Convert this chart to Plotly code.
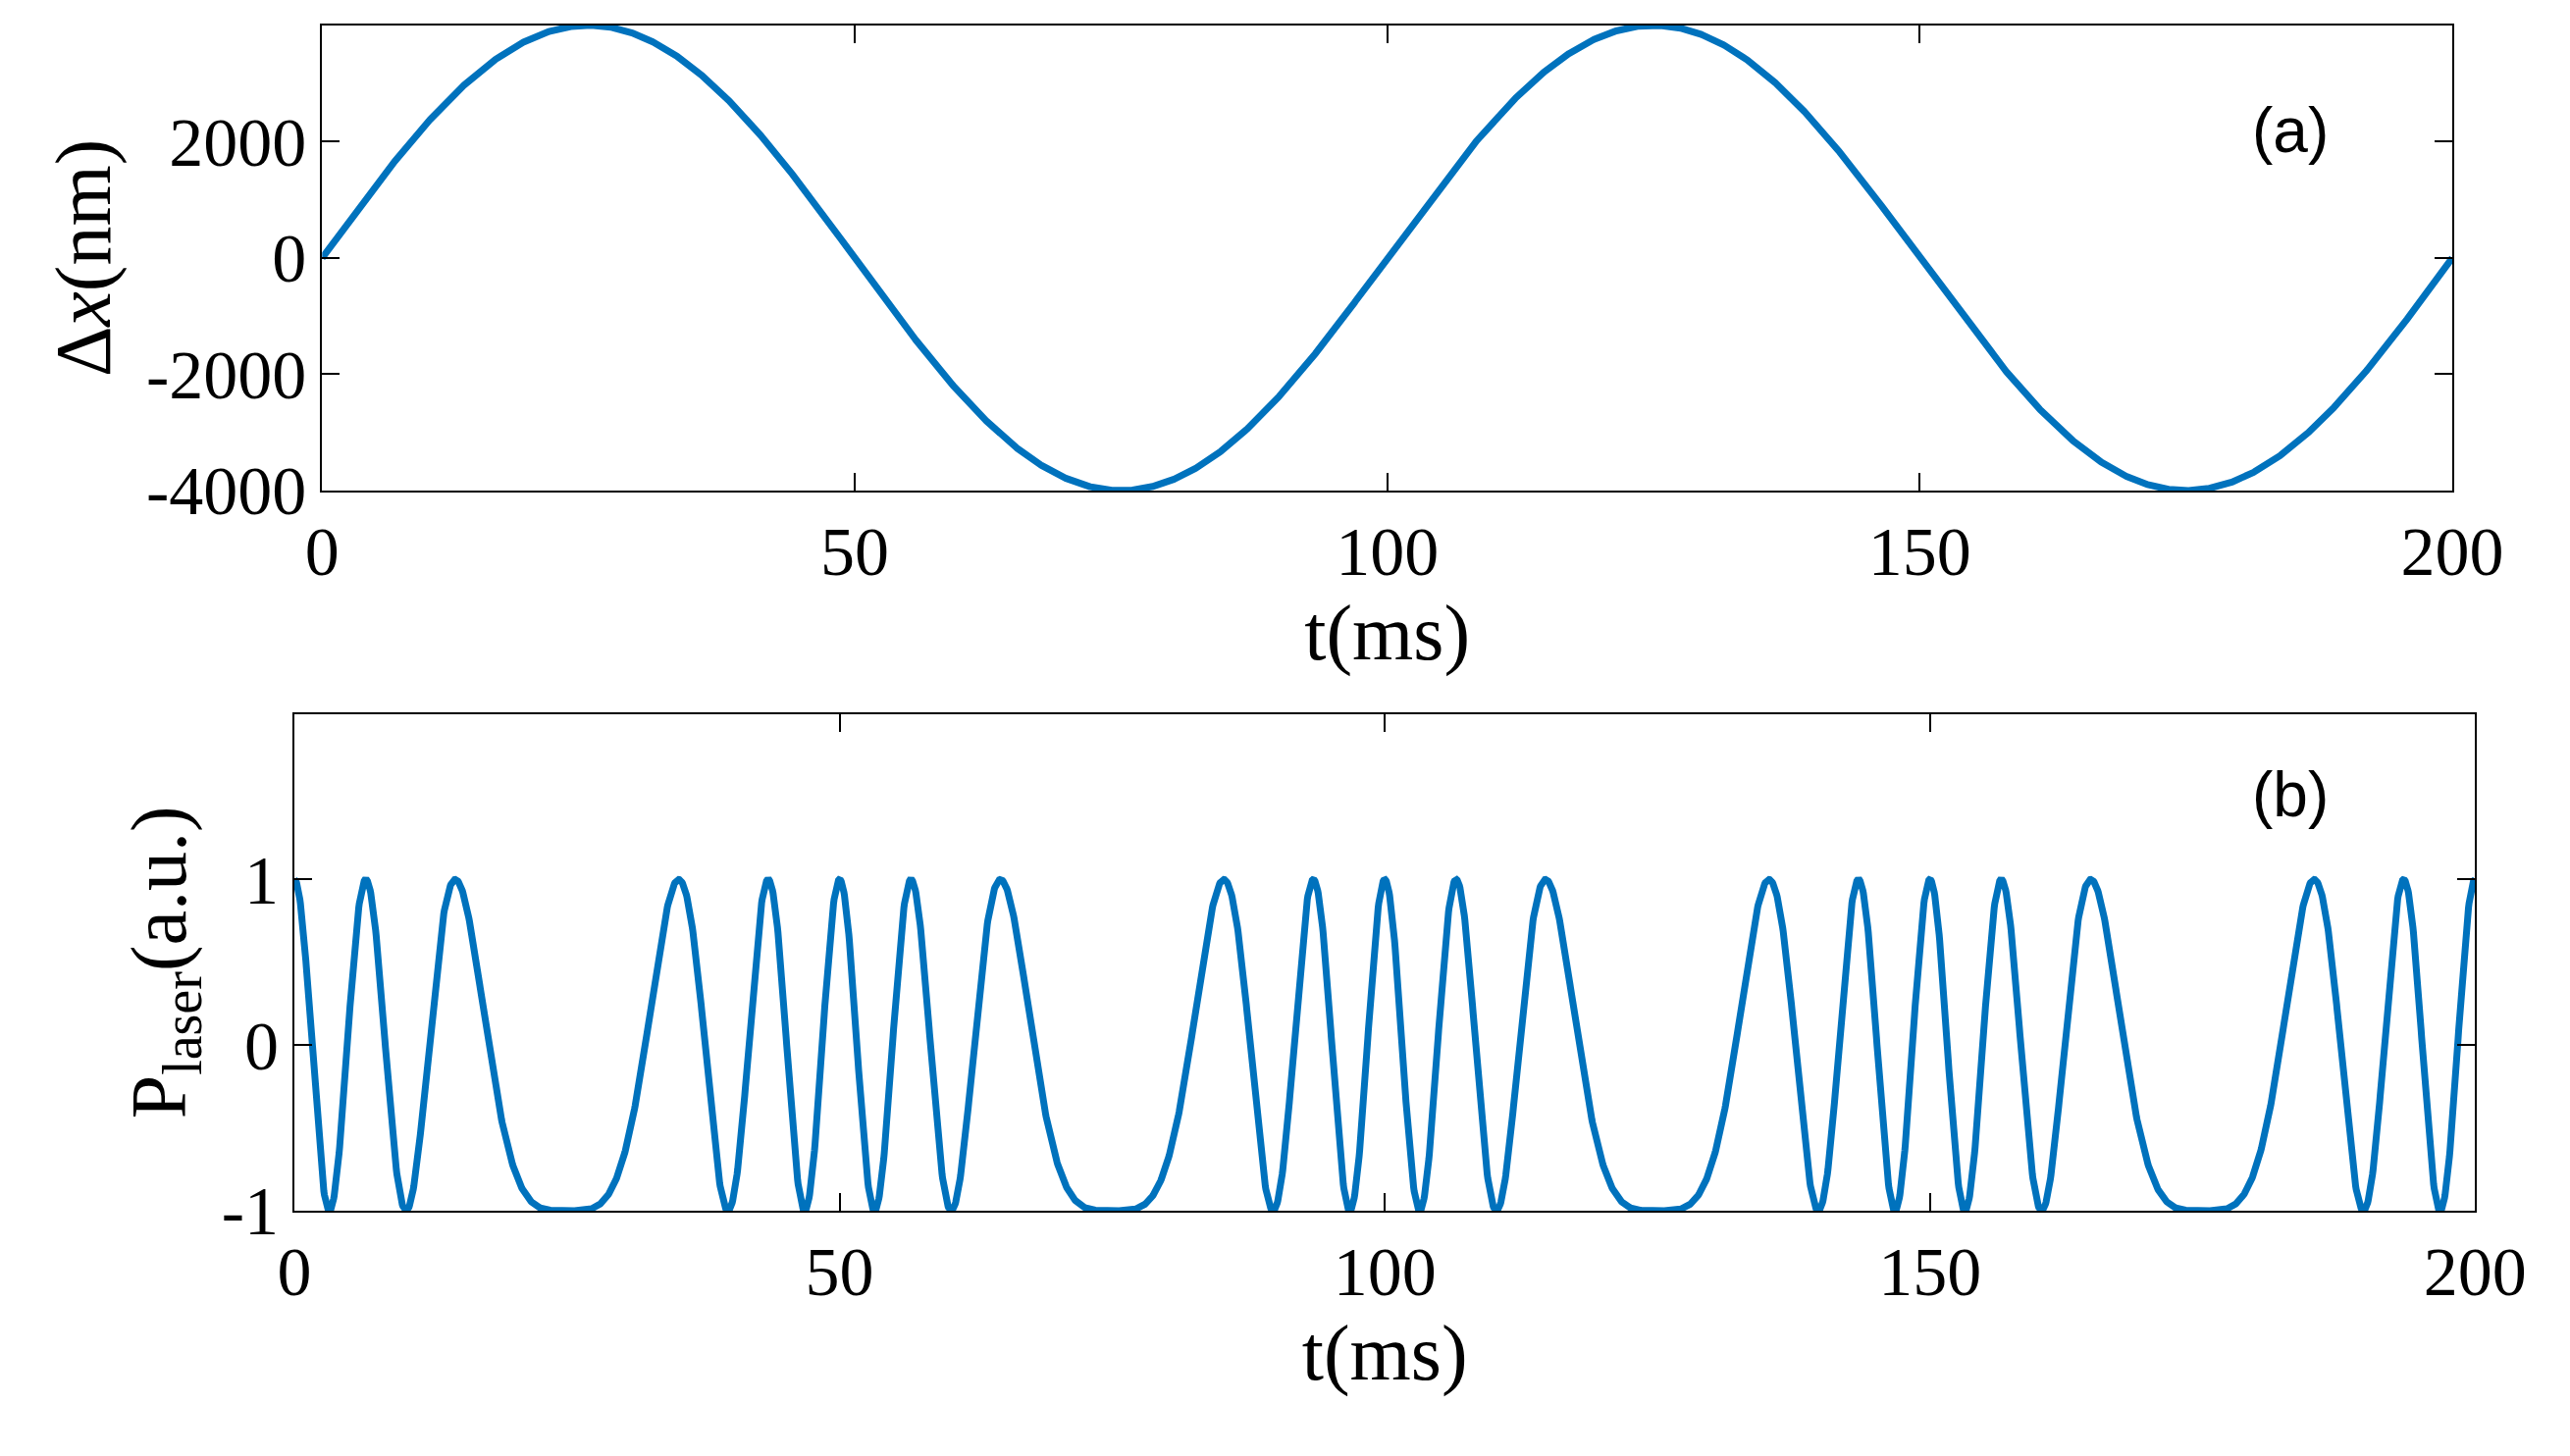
import numpy as np
import plotly.graph_objects as go

# values
amplitude_nm = [4000]          # peak of Δx
period_ms = [100]              # period of Δx
fringe_nm = [1600]             # Δx spacing between P=1 maxima (2.5 fringes per 4000 nm)
t_range = [0, 200]
x_ticks_top = [0, 50, 100, 150, 200]
y_ticks_top = [-4000, -2000, 0, 2000, 4000]
y_ticks_bot = [-1, 0, 1]

t = np.linspace(t_range[0], t_range[1], 4001)
dx = amplitude_nm[0] * np.sin(2 * np.pi * t / period_ms[0])
p = np.cos(2 * np.pi * dx / fringe_nm[0])

color = "#0072BD"
tfont = dict(family="Liberation Serif", size=70, color="black")
lfont = dict(family="Liberation Serif", size=80, color="black")

fig = go.Figure()
fig.add_trace(go.Scatter(x=t, y=dx, mode="lines", line=dict(color=color, width=7), xaxis="x", yaxis="y"))
fig.add_trace(go.Scatter(x=t, y=p, mode="lines", line=dict(color=color, width=7), xaxis="x2", yaxis="y2"))

ax = dict(showline=True, mirror="ticks", linecolor="black", linewidth=2, ticks="inside",
          ticklen=18, tickwidth=2, tickcolor="black", showgrid=False, zeroline=False,
          tickfont=tfont, title_font=lfont)
fig.update_layout(
    width=2619, height=1484, margin=dict(l=0, r=0, t=0, b=0),
    paper_bgcolor="white", plot_bgcolor="white", showlegend=False,
    xaxis=dict(ax, domain=[0.1186, 0.9702], range=t_range, tickvals=x_ticks_top,
               title=dict(text="t(ms)", standoff=4), anchor="y"),
    yaxis=dict(ax, domain=[0.6593, 0.9877], range=[-4000, 4000], tickvals=y_ticks_top,
               ticktext=[str(v) for v in y_ticks_top],
               title=dict(text="Δ<i>x</i>(nm)", standoff=10), anchor="x"),
    xaxis2=dict(ax, domain=[0.1075, 0.9793], range=t_range, tickvals=x_ticks_top,
                title=dict(text="t(ms)", standoff=4), anchor="y2"),
    yaxis2=dict(ax, domain=[0.1510, 0.5016], range=[-1, 2], tickvals=y_ticks_bot,
                ticktext=[str(v) for v in y_ticks_bot],
                title=dict(text="P<sub>laser</sub>(a.u.)", standoff=10), anchor="x2"),
    annotations=[
        dict(text="(a)", x=0.9214, y=0.9398, xref="paper", yref="paper", showarrow=False,
             font=dict(family="Liberation Sans", size=64, color="black")),
        dict(text="(b)", x=0.9214, y=0.4443, xref="paper", yref="paper", showarrow=False,
             font=dict(family="Liberation Sans", size=64, color="black")),
    ],
)
fig.write_html("out.html")
